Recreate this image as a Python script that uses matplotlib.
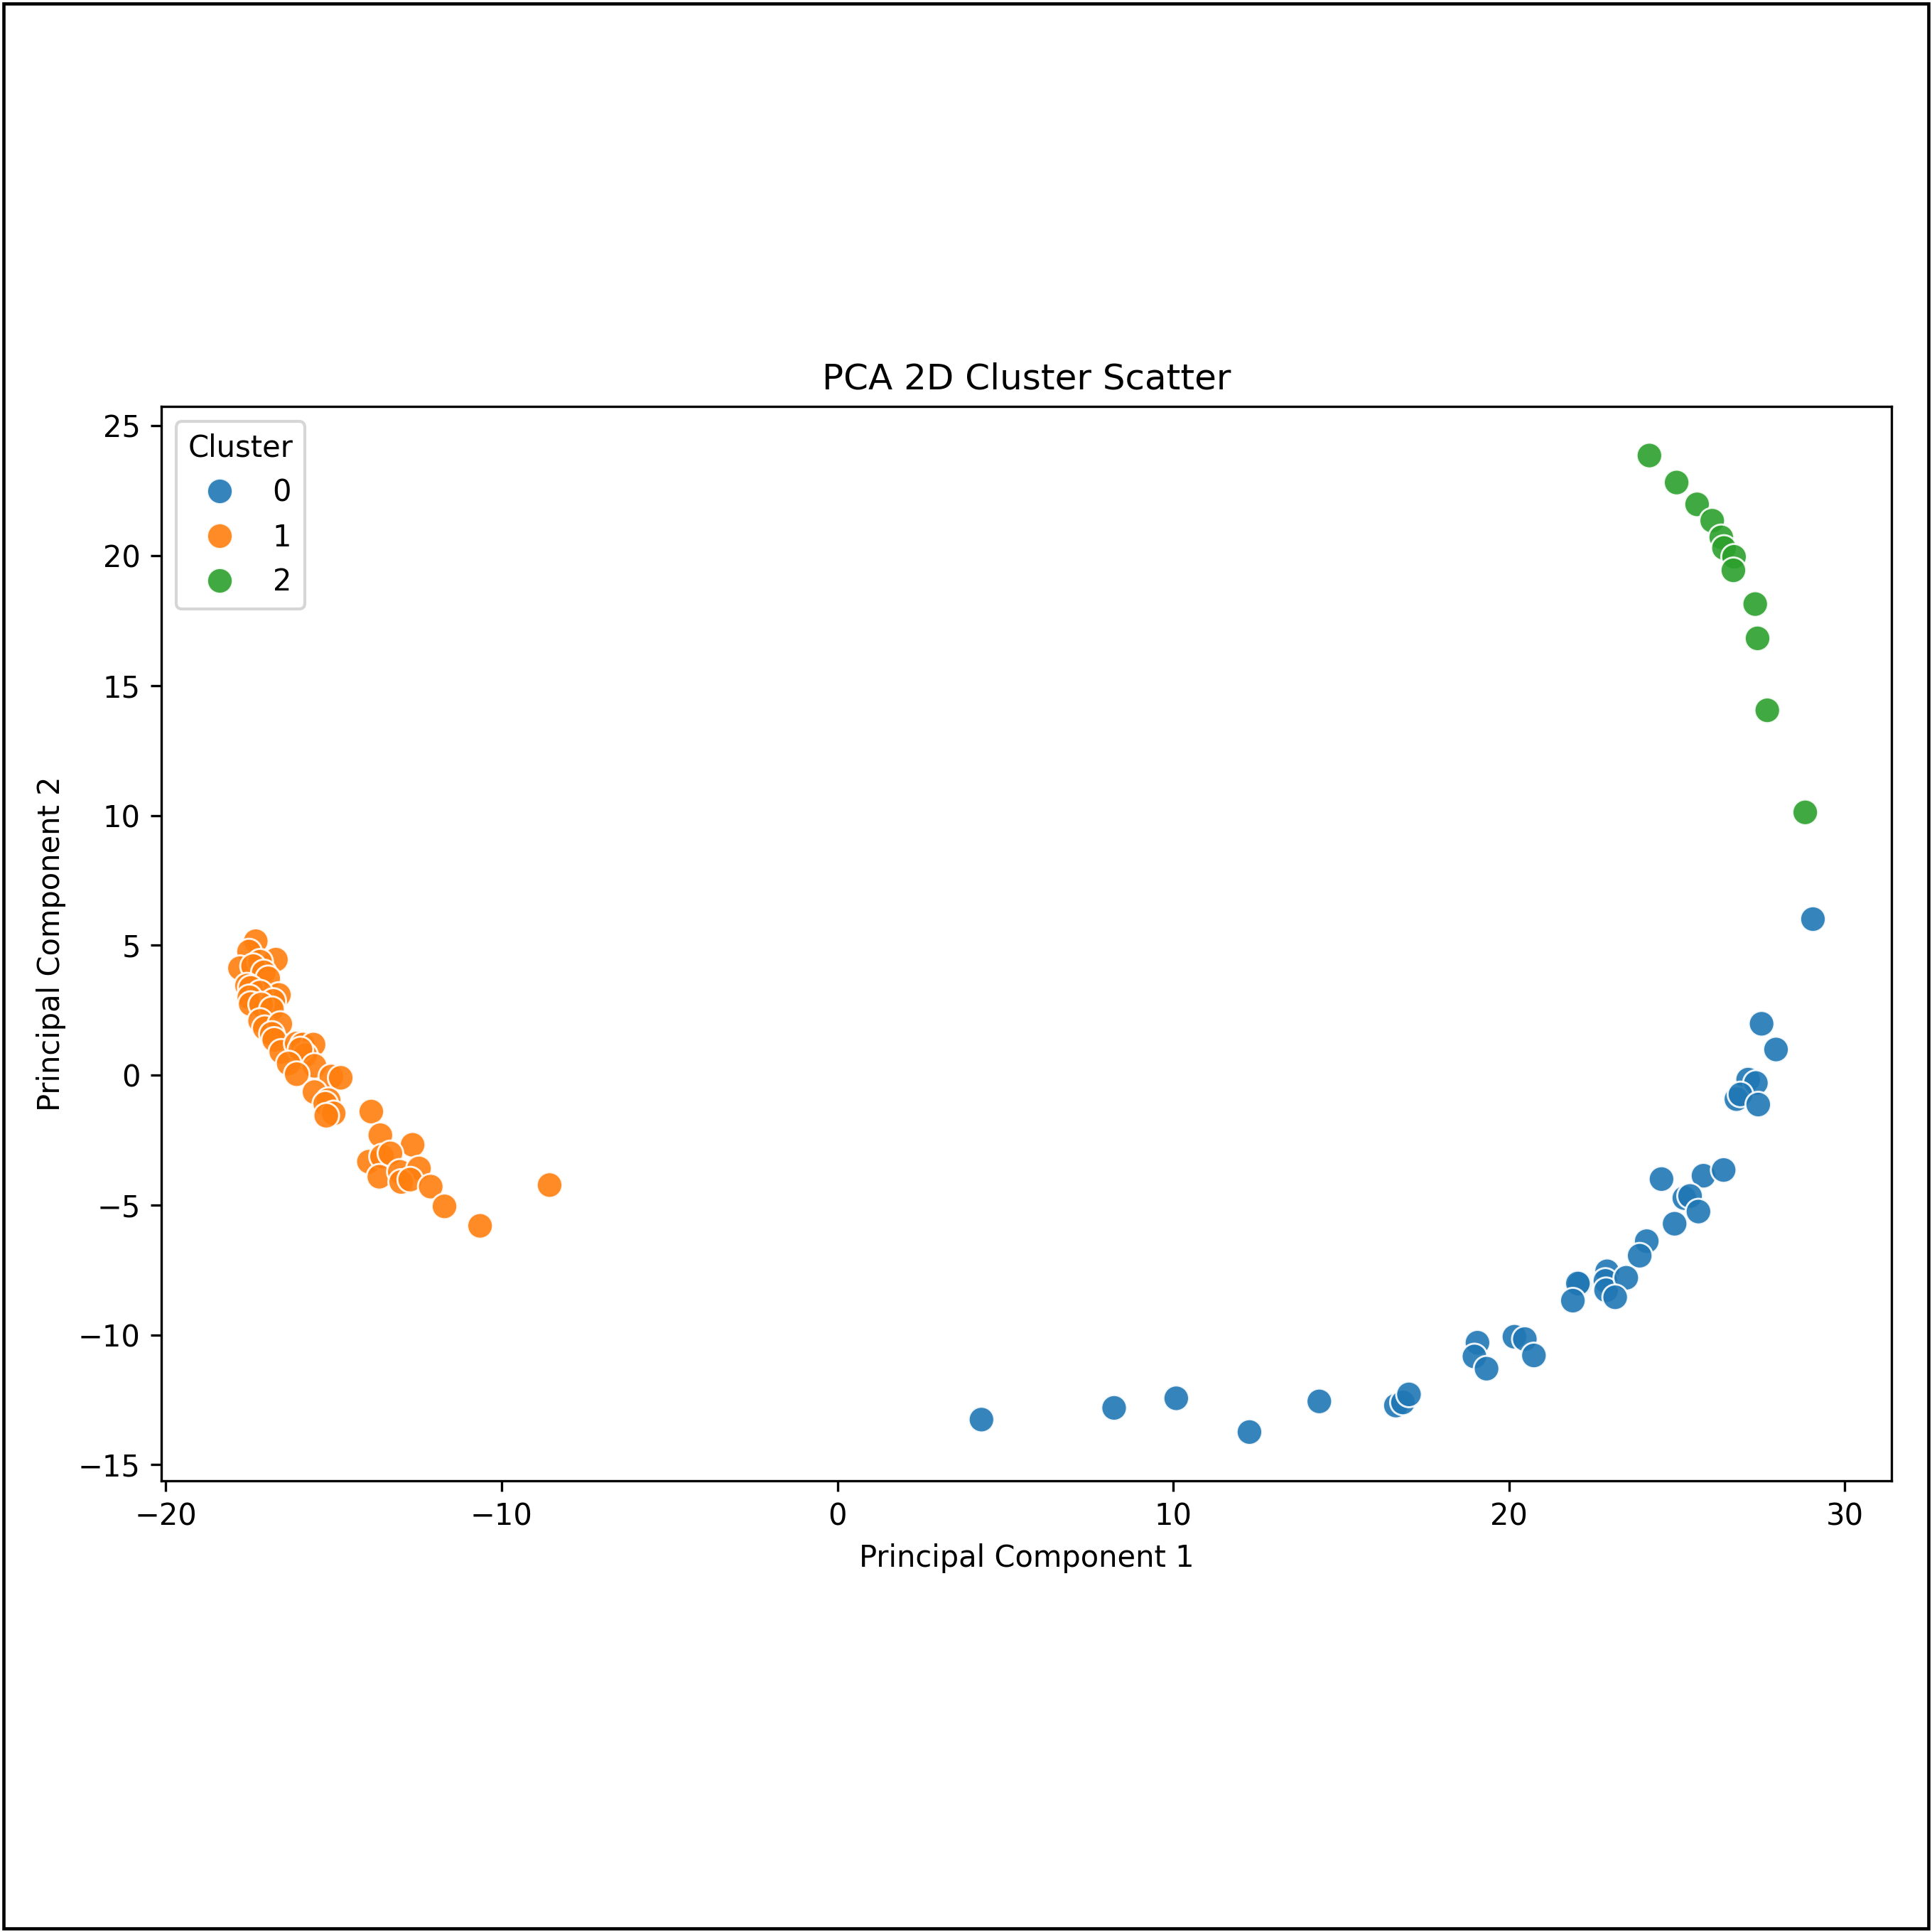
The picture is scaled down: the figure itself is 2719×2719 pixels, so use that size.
import matplotlib
matplotlib.use('Agg')
import matplotlib.pyplot as plt
from matplotlib.patches import Rectangle
import seaborn as sns
import pandas as pd

# cluster 0 (blue)
x0 = [29.05, 27.52, 27.95, 27.12, 27.35, 26.77, 26.89, 27.42,
      24.54, 25.79, 26.39, 25.22, 25.39, 25.64, 24.93, 24.10, 23.89,
      22.92, 22.87, 22.89, 23.49, 23.16, 22.10, 22.05, 21.90,
      19.06, 18.97, 19.33, 20.16, 20.47, 20.74,
      4.29, 8.24, 10.09, 12.27, 14.35, 16.63, 16.84, 17.02]
y0 = [6.01, 1.98, 0.99, -0.17, -0.30, -0.92, -0.74, -1.13,
      -4.00, -3.87, -3.65, -4.73, -4.65, -5.25, -5.72, -6.39, -6.95,
      -7.55, -7.92, -8.28, -7.80, -8.55, -8.04, -8.02, -8.68,
      -10.30, -10.83, -11.30, -10.07, -10.16, -10.79,
      -13.26, -12.81, -12.44, -13.74, -12.56, -12.72, -12.60, -12.29]

# cluster 1 (orange)
x1 = [-17.32, -17.52, -16.72, -17.79, -17.19, -17.40, -17.08, -16.95, -17.58, -17.47,
      -16.63, -17.19, -17.51, -17.47, -16.80, -17.16, -16.84, -17.19, -17.05, -16.59,
      -16.84, -16.77, -16.56, -16.10, -15.92, -15.60, -15.85, -15.99, -16.34, -15.57,
      -16.10, -15.07, -14.79, -15.57, -15.15, -15.25, -15.00, -15.22,
      -13.88, -13.61, -12.65, -13.95, -13.56, -13.31, -13.64, -13.03, -12.46, -12.99,
      -12.72, -12.11, -11.70, -10.64, -8.57]
y1 = [5.16, 4.76, 4.45, 4.12, 4.37, 4.20, 3.96, 3.73, 3.45, 3.36,
      3.09, 3.18, 3.00, 2.74, 2.86, 2.72, 2.54, 2.09, 1.81, 1.97,
      1.59, 1.36, 0.90, 1.22, 1.18, 1.18, 0.77, 0.99, 0.45, 0.36,
      0.04, -0.05, -0.10, -0.65, -0.96, -1.10, -1.47, -1.56,
      -1.40, -2.31, -2.68, -3.33, -3.13, -3.01, -3.91, -3.72, -3.59, -4.11,
      -4.02, -4.29, -5.05, -5.80, -4.23]

# cluster 2 (green)
x2 = [24.18, 24.99, 25.60, 26.05, 26.32, 26.40, 26.70, 26.68, 27.33, 27.40, 27.69, 28.82]
y2 = [23.86, 22.82, 21.98, 21.35, 20.71, 20.30, 19.96, 19.44, 18.14, 16.82, 14.05, 10.12]

clusters = ['0', '1', '2']


def build_frame():
    frames = []
    for lab, xs, ys in zip(clusters, [x0, x1, x2], [y0, y1, y2]):
        frames.append(pd.DataFrame({'PC1': xs, 'PC2': ys, 'Cluster': lab}))
    return pd.concat(frames, ignore_index=True)


def main():
    df = build_frame()
    dpi = 300
    fig = plt.figure(figsize=(2719 / dpi, 2719 / dpi), dpi=dpi)
    ax = fig.add_axes([0.0835, 0.2335, 0.8956, 0.556])
    sns.scatterplot(data=df, x='PC1', y='PC2', hue='Cluster', hue_order=clusters,
                    palette='tab10', s=75, alpha=0.9, ax=ax)
    ax.set_title('PCA 2D Cluster Scatter')
    ax.set_xlabel('Principal Component 1')
    ax.set_ylabel('Principal Component 2')
    ax.legend(title='Cluster', loc='upper left')

    # black frame round the whole picture
    fig.patches.append(Rectangle((0.0017, 0.0017), 0.9966, 0.9966, transform=fig.transFigure,
                                 fill=False, edgecolor='black', linewidth=1.1))
    fig.savefig('out.png', dpi=dpi)


if __name__ == '__main__':
    main()
